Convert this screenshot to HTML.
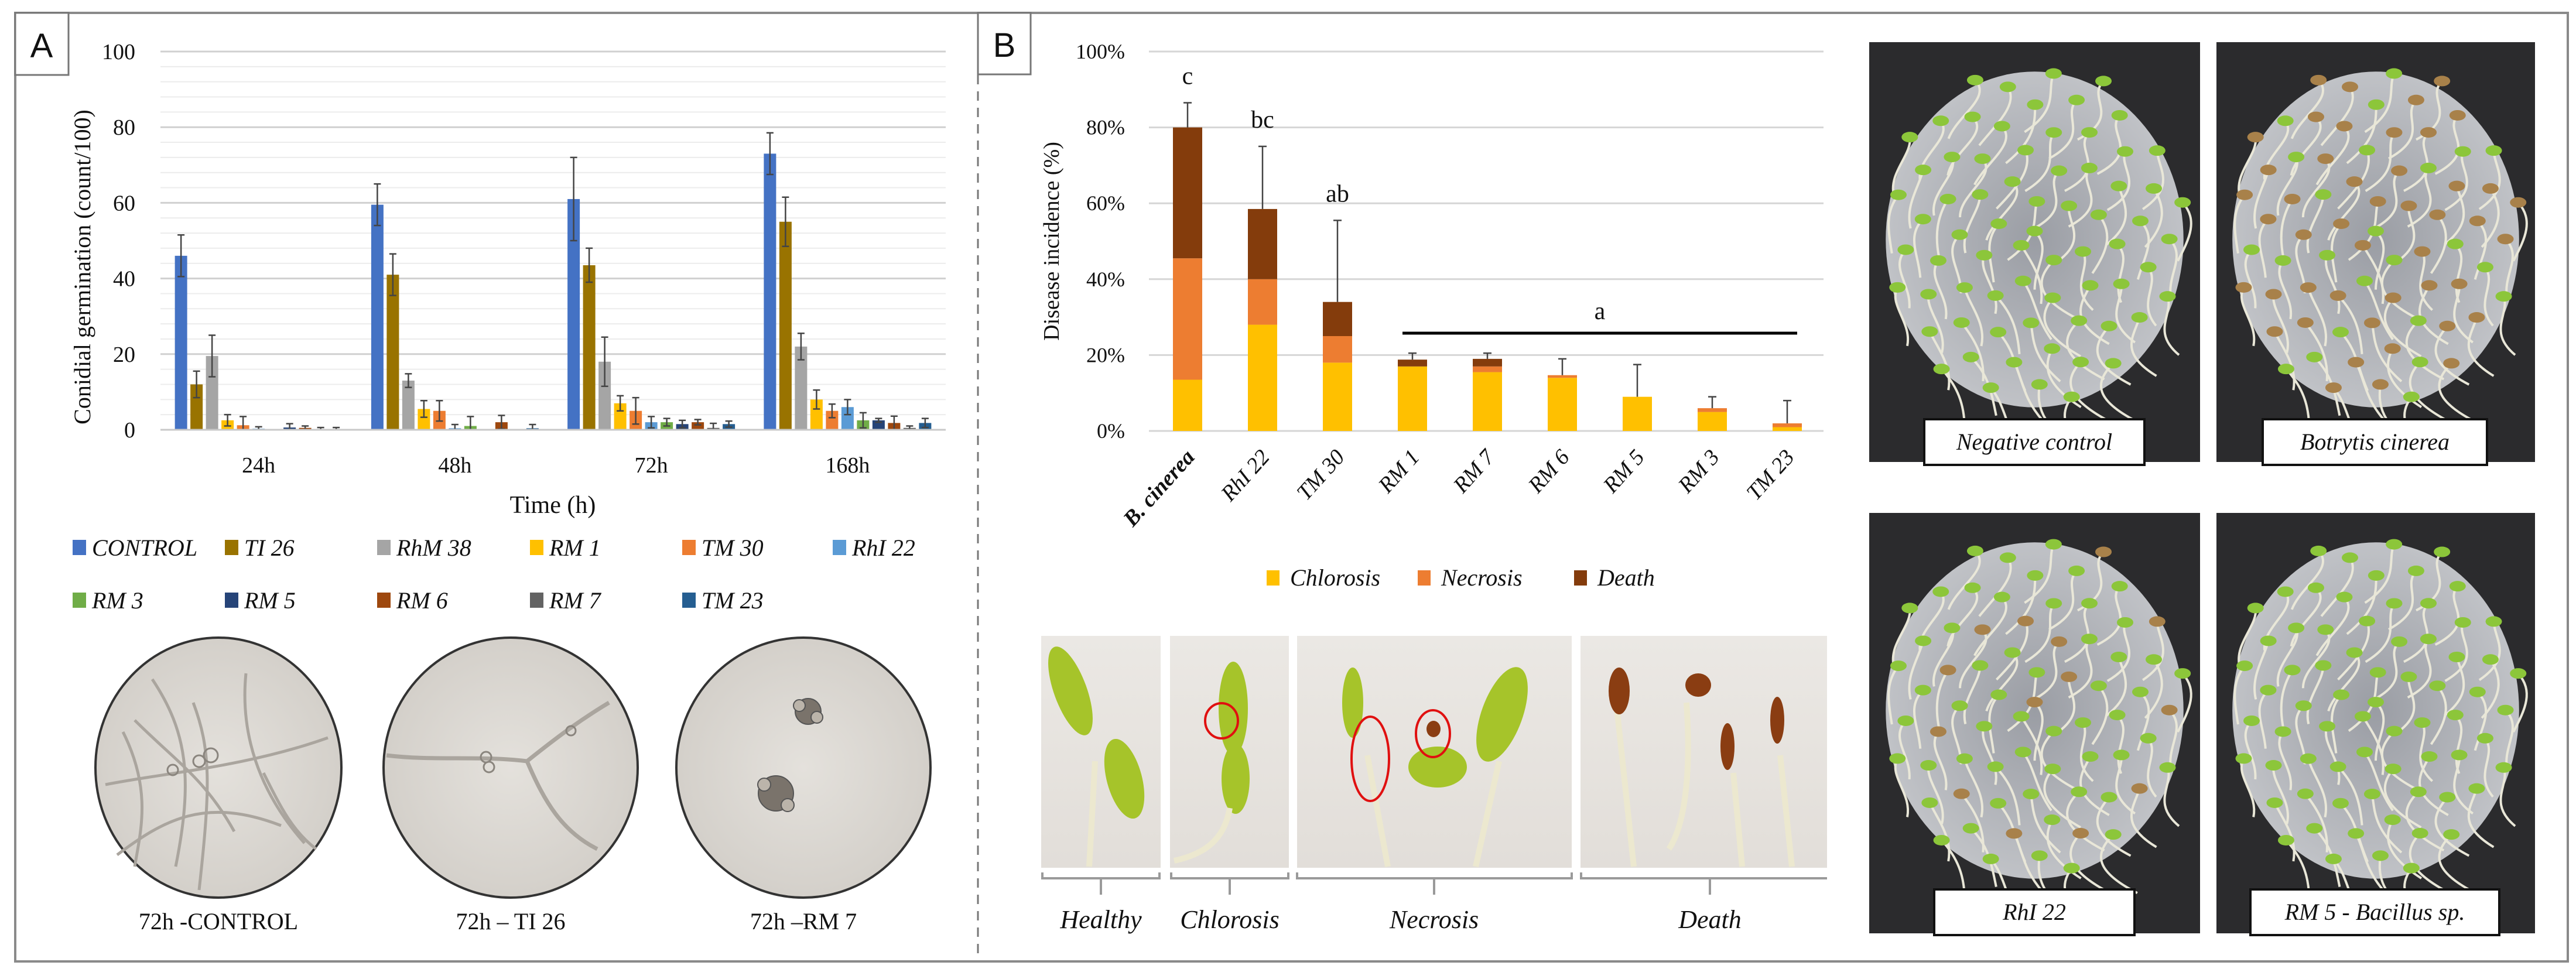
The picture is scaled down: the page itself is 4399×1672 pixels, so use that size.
<!DOCTYPE html>
<html><head><meta charset="utf-8">
<style>
html,body{margin:0;padding:0;background:#fff;}
svg{display:block;}
text{font-family:"Liberation Serif",serif;fill:#111;}
</style></head>
<body>
<svg id="fig" width="4399" height="1672" viewBox="0 0 4399 1672" xmlns="http://www.w3.org/2000/svg">
<defs>
<radialGradient id="micro" cx="50%" cy="50%" r="55%"><stop offset="0" stop-color="#e4e1dc"/><stop offset="1" stop-color="#d2cec8"/></radialGradient>
<linearGradient id="strip" x1="0" y1="0" x2="0" y2="1"><stop offset="0" stop-color="#ebe8e4"/><stop offset="1" stop-color="#e2ded9"/></linearGradient>
<radialGradient id="disc" cx="50%" cy="50%" r="55%"><stop offset="0" stop-color="#9a9da4"/><stop offset="1" stop-color="#c4c6ca"/></radialGradient>
</defs>
<!-- frame -->
<rect x="26" y="22" width="4359" height="1620" fill="none" stroke="#8a8a8a" stroke-width="4"/>
<line x1="1670" y1="128" x2="1670" y2="1640" stroke="#777" stroke-width="3" stroke-dasharray="16,12"/>
<g><rect x="26" y="22" width="91" height="106" fill="#fff" stroke="#777" stroke-width="3"/><text x="71" y="98" font-size="58" text-anchor="middle" style="font-family:'Liberation Sans',sans-serif">A</text></g>
<g><rect x="1670" y="22" width="90" height="105" fill="#fff" stroke="#777" stroke-width="3"/><text x="1715" y="97" font-size="58" text-anchor="middle" style="font-family:'Liberation Sans',sans-serif">B</text></g>

<g id="chartA"></g>
<g id="chartB"></g>

<!-- microscope images -->
<g>
<ellipse cx="373" cy="1311" rx="210" ry="222" fill="url(#micro)" stroke="#333" stroke-width="4"/>
<g stroke="#aaa59e" stroke-width="5" fill="none"><path d="M230 1230 C300 1300 350 1330 400 1420"/><path d="M260 1160 C320 1250 330 1330 300 1480"/><path d="M180 1340 C280 1320 420 1310 560 1260"/><path d="M420 1150 C410 1250 440 1350 520 1440"/><path d="M200 1460 C280 1400 350 1360 480 1410"/><path d="M330 1200 C360 1280 360 1340 340 1520"/><path d="M210 1250 C260 1350 240 1420 230 1480"/><path d="M450 1320 C480 1380 500 1420 540 1450"/></g>
<g fill="none" stroke="#8a857e" stroke-width="3"><circle cx="340" cy="1300" r="10"/><circle cx="360" cy="1290" r="12"/><circle cx="295" cy="1315" r="9"/></g>
</g>
<g>
<ellipse cx="872" cy="1311" rx="217" ry="222" fill="url(#micro)" stroke="#333" stroke-width="4"/>
<g stroke="#aaa59e" stroke-width="7" fill="none"><path d="M660 1290 C740 1300 820 1290 900 1300 C950 1260 990 1230 1040 1200"/><path d="M900 1300 C930 1370 960 1420 1020 1450"/></g>
<g fill="none" stroke="#8a857e" stroke-width="3"><circle cx="830" cy="1293" r="9"/><circle cx="835" cy="1310" r="9"/><circle cx="975" cy="1248" r="8"/></g>
</g>
<g>
<ellipse cx="1372" cy="1311" rx="217" ry="222" fill="url(#micro)" stroke="#333" stroke-width="4"/>
<g fill="#7a736b" stroke="#555" stroke-width="2"><circle cx="1380" cy="1215" r="22"/><circle cx="1365" cy="1205" r="10" fill="#bbb4aa"/><circle cx="1395" cy="1225" r="10" fill="#bbb4aa"/><circle cx="1325" cy="1355" r="30"/><circle cx="1305" cy="1340" r="11" fill="#bbb4aa"/><circle cx="1345" cy="1375" r="11" fill="#bbb4aa"/></g>
</g>
<text x="373" y="1587" font-size="40" text-anchor="middle">72h -CONTROL</text>
<text x="872" y="1587" font-size="40" text-anchor="middle">72h – TI 26</text>
<text x="1372" y="1587" font-size="40" text-anchor="middle">72h –RM 7</text>

<!-- seedling symptom strip -->
<g>
<rect x="1778" y="1086" width="204" height="396" fill="url(#strip)"/>
<rect x="1998" y="1086" width="203" height="396" fill="url(#strip)"/>
<rect x="2215" y="1086" width="469" height="396" fill="url(#strip)"/>
<rect x="2699" y="1086" width="421" height="396" fill="url(#strip)"/>
<g fill="#a6c42a"><ellipse cx="1828" cy="1180" rx="28" ry="80" transform="rotate(-20 1828 1180)"/><ellipse cx="1920" cy="1330" rx="30" ry="70" transform="rotate(-15 1920 1330)"/><ellipse cx="2106" cy="1210" rx="25" ry="80"/><ellipse cx="2110" cy="1330" rx="24" ry="60"/><ellipse cx="2310" cy="1200" rx="18" ry="60"/><ellipse cx="2455" cy="1310" rx="50" ry="35"/><ellipse cx="2565" cy="1220" rx="35" ry="85" transform="rotate(20 2565 1220)"/></g>
<g stroke="#ece8cf" stroke-width="10" fill="none"><path d="M1870 1300 L1860 1480"/><path d="M2100 1380 C2090 1440 2050 1460 2005 1470"/><path d="M2335 1290 L2370 1480"/><path d="M2560 1300 L2520 1480"/><path d="M2760 1200 L2790 1480"/><path d="M2880 1200 C2890 1350 2870 1420 2850 1450"/><path d="M2960 1320 L2975 1480"/><path d="M3040 1290 L3060 1480"/></g>
<g fill="#8a3d12"><ellipse cx="2765" cy="1180" rx="18" ry="40"/><ellipse cx="2900" cy="1170" rx="22" ry="20"/><ellipse cx="2950" cy="1275" rx="12" ry="40"/><ellipse cx="3035" cy="1230" rx="12" ry="40"/><ellipse cx="2448" cy="1245" rx="12" ry="14"/></g>
<g fill="none" stroke="#e01010" stroke-width="4"><ellipse cx="2086" cy="1231" rx="28" ry="30"/><ellipse cx="2340" cy="1296" rx="32" ry="72"/><ellipse cx="2447" cy="1253" rx="29" ry="40"/></g>
</g>
<g stroke="#9a9a9a" stroke-width="4" fill="none">
<path d="M1780 1490 V1500 H1980 V1490 M1880 1500 V1528"/>
<path d="M2000 1490 V1500 H2200 V1490 M2100 1500 V1528"/>
<path d="M2215 1490 V1500 H2684 V1490 M2449 1500 V1528"/>
<path d="M2700 1490 V1500 H3120 M2920 1500 V1528"/>
</g>
<g font-size="44" font-style="italic" text-anchor="middle">
<text x="1880" y="1585">Healthy</text>
<text x="2100" y="1585">Chlorosis</text>
<text x="2449" y="1585">Necrosis</text>
<text x="2920" y="1585">Death</text>
</g>

<!-- plate photos -->
<g id="plates"></g>
</svg>
<script>
// ===== Chart A data =====
const timeCats = ["24h","48h","72h","168h"];
const isolates = ["CONTROL","TI 26","RhM 38","RM 1","TM 30","RhI 22","RM 3","RM 5","RM 6","RM 7","TM 23"];
const isoColors = ["#4472C4","#997300","#A5A5A5","#FFC000","#ED7D31","#5B9BD5","#70AD47","#264478","#9E480E","#636363","#255E91"];
const germ24 = [46,12,19.5,2.5,1.2,0.3,0,0.6,0.5,0.2,0.2];
const germ48 = [59.5,41,13,5.5,5,0.4,1,0,2,0,0.4];
const germ72 = [61,43.5,18,7,5,2,2,1.5,2,0.5,1.5];
const germ168 = [73,55,22,8,5,6,2.5,2.5,1.8,0.5,1.8];
const err24 = [5.5,3.5,5.5,1.5,2.3,0.5,0,1,0.5,0.4,0.4];
const err48 = [5.5,5.5,1.8,2.2,2.7,1,2.5,0,1.8,0,1];
const err72 = [11,4.5,6.5,2,3.5,1.5,1,1,0.7,1.2,0.8];
const err168 = [5.5,6.5,3.5,2.5,1.8,2,2,0.5,1.8,0.5,1.2];
const yTicksA = [0,20,40,60,80,100];
// ===== Chart B data =====
const treatments = ["B. cinerea","RhI 22","TM 30","RM 1","RM 7","RM 6","RM 5","RM 3","TM 23"];
const chlorosis = [13.5,28,18,17,15.5,14,9,5,1];
const necrosis = [32,12,7,0,1.5,0.7,0,1,1];
const death = [34.5,18.5,9,1.8,2,0,0,0,0];
const errTop = [86.5,75,55.5,20.5,20.5,19,17.5,9,8];
const sigLetters = ["c","bc","ab"];
const yTicksB = [0,20,40,60,80,100];
const groupLetter = "a";

const NS="http://www.w3.org/2000/svg";
function mk(tag,attrs,parent){const e=document.createElementNS(NS,tag);for(const k in attrs)e.setAttribute(k,attrs[k]);parent.appendChild(e);return e;}

// ----- Chart A -----
(function(){
 const g=document.getElementById('chartA');
 const x0=274,x1=1615,y0=734,y1=88;
 const ys=v=>y0-(v/100)*(y0-y1);
 for(let v=0;v<=100;v+=4){
  const l=mk('line',{x1:x0,x2:x1,y1:ys(v),y2:ys(v),stroke:v%20===0?'#d0d0d0':'#ececec','stroke-width':v%20===0?3:2},g);
  
  
 }
 yTicksA.forEach(v=>{const t=mk('text',{x:231,y:ys(v)+13,'font-size':38,'text-anchor':'end'},g);t.textContent=v;
  
  });
 const series=[germ24,germ48,germ72,germ168], errs=[err24,err48,err72,err168];
 const gw=(x1-x0)/timeCats.length, stride=26.5, bw=21;
 timeCats.forEach((c,gi)=>{
  const gx=x0+gi*gw, start=gx+(gw-stride*isolates.length)/2;
  isolates.forEach((iso,i)=>{
   const v=series[gi][i], e=errs[gi][i];
   const bx=start+i*stride+(stride-bw)/2;
   const r=mk('rect',{x:bx,y:ys(v),width:bw,height:Math.max(0,ys(0)-ys(v)),fill:isoColors[i]},g);
   
   
   if(e>0){const cx=bx+bw/2;
    const p=mk('path',{d:`M${cx} ${ys(Math.max(0,v-e))} V${ys(v+e)} M${cx-6} ${ys(v+e)} H${cx+6} M${cx-6} ${ys(Math.max(0,v-e))} H${cx+6}`,stroke:'#444','stroke-width':2.5,fill:'none'},g);
    
    }
  });
  const t=mk('text',{x:gx+gw/2,y:807,'font-size':38,'text-anchor':'middle'},g);t.textContent=c;
  
  
 });
 mk('line',{x1:x0,x2:x1,y1:y0,y2:y0,stroke:'#c8c8c8','stroke-width':3},g);
 const yt=mk('text',{x:0,y:0,'font-size':40,'text-anchor':'middle',transform:'translate(154,456) rotate(-90)'},g);yt.textContent='Conidial germination (count/100)';
 
 
 const xt=mk('text',{x:944,y:876,'font-size':42,'text-anchor':'middle'},g);xt.textContent='Time (h)';
 
 
 const lx=[124,384,644,905,1165,1422];
 isolates.forEach((iso,i)=>{
  const row=Math.floor(i/6), col=i%6, y=row?1025:935;
  const sq=mk('rect',{x:lx[col],y:y-13,width:23,height:26,fill:isoColors[i]},g);
  
  
  const t=mk('text',{x:lx[col]+33,y:y+14,'font-size':40,'font-style':'italic'},g);t.textContent=iso;
  
  
 });
})();

// ----- Chart B -----
(function(){
 const g=document.getElementById('chartB');
 const x0=1962,x1=3114,y0=736,y1=88;
 const ys=v=>y0-(v/100)*(y0-y1);
 yTicksB.forEach(v=>{
  const l=mk('line',{x1:x0,x2:x1,y1:ys(v),y2:ys(v),stroke:'#d6d6d6','stroke-width':3},g);
  
  
  const t=mk('text',{x:1921,y:ys(v)+12,'font-size':36,'text-anchor':'end'},g);t.textContent=v+'%';
  
  
 });
 const stride=128,bw=50,c0=2028;
 const cols=['#FFC000','#ED7D31','#843C0C'];
 treatments.forEach((tr,i)=>{
  const cx=c0+i*stride;
  let base=0;
  [chlorosis[i],necrosis[i],death[i]].forEach((v,k)=>{
   if(v<=0)return;
   const r=mk('rect',{x:cx-bw/2,y:ys(base+v),width:bw,height:ys(base)-ys(base+v),fill:cols[k]},g);
   
   
   base+=v;
  });
  const p=mk('path',{d:`M${cx} ${ys(base)} V${ys(errTop[i])} M${cx-7} ${ys(errTop[i])} H${cx+7}`,stroke:'#444','stroke-width':2.5,fill:'none'},g);
  
  
  if(i<sigLetters.length){const t=mk('text',{x:cx,y:ys(errTop[i])-32,'font-size':42,'text-anchor':'middle'},g);t.textContent=sigLetters[i];
   
   }
  const lt=mk('text',{x:0,y:0,'font-size':38,'font-style':'italic','text-anchor':'end',transform:`translate(${cx+14},${782}) rotate(-48)`},g);
  lt.textContent=tr; if(i===0)lt.setAttribute('font-weight','bold');
  
  
 });
 const gl=mk('line',{x1:2395,x2:3069,y1:569,y2:569,stroke:'#000','stroke-width':5},g);
 
 
 const ga=mk('text',{x:2732,y:545,'font-size':42,'text-anchor':'middle'},g);ga.textContent=groupLetter;
 
 
 const yt=mk('text',{x:0,y:0,'font-size':38,'text-anchor':'middle',transform:'translate(1808,412) rotate(-90)'},g);yt.textContent='Disease incidence  (%)';
 
 
 const lg=[['Chlorosis',2163],['Necrosis',2421],['Death',2688]];
 lg.forEach((e,k)=>{
  const s=mk('rect',{x:e[1],y:974,width:22,height:26,fill:cols[k]},g);
  
  
  const t=mk('text',{x:e[1]+40,y:1000,'font-size':40,'font-style':'italic'},g);t.textContent=e[0];
  
  
 });
})();

// ----- plates -----
(function(){
 const g=document.getElementById('plates');
 const plates=[[3192,72,565,717,'Negative control',3286,716,376],[3785,72,544,717,'Botrytis cinerea',3864,716,383],[3192,876,565,718,'RhI 22',3303,1519,342],[3785,876,544,718,'RM 5 - Bacillus sp.',3843,1519,425]];
 plates.forEach((p,i)=>{
  const pg=mk('g',{},g);
  
  
  mk('rect',{x:p[0],y:p[1],width:p[2],height:p[3],fill:'#2b2b2d'},pg);
  mk('ellipse',{cx:p[0]+p[2]/2,cy:p[1]+p[3]*0.47,rx:p[2]*0.45,ry:p[3]*0.4,fill:'url(#disc)'},pg);
  for(let k=0;k<70;k++){
   const a=k*2.39996, rr=Math.sqrt(k/70);
   const cx=p[0]+p[2]/2+Math.cos(a)*rr*p[2]*0.46, cy=p[1]+p[3]*0.45+Math.sin(a)*rr*p[3]*0.42;
   mk('path',{d:`M${cx} ${cy} c ${30*Math.cos(a*3)} 30 ${-40*Math.sin(a*2)} 60 ${50*Math.sin(a)} 100`,stroke:'#e9e7d8','stroke-width':4,fill:'none'},pg);
  }
  for(let k=0;k<70;k++){
   const a=k*2.39996, rr=Math.sqrt(k/70);
   const cx=p[0]+p[2]/2+Math.cos(a)*rr*p[2]*0.46, cy=p[1]+p[3]*0.45+Math.sin(a)*rr*p[3]*0.42;
   let col='#8cc63a';
   if(i===1&&k%3!==0)col='#a8814a';
   if(i===2&&k%5===0)col='#a8814a';
   mk('ellipse',{cx:cx,cy:cy,rx:14,ry:9,fill:col},pg);
  }
  mk('rect',{x:p[5],y:p[6],width:p[7],height:78,fill:'#fff',stroke:'#111','stroke-width':4},pg);
  const t=mk('text',{x:p[5]+p[7]/2,y:p[6]+52,'font-size':40,'font-style':'italic','text-anchor':'middle'},pg);
  t.textContent=p[4];
 });
})();
</script>
</body></html>
